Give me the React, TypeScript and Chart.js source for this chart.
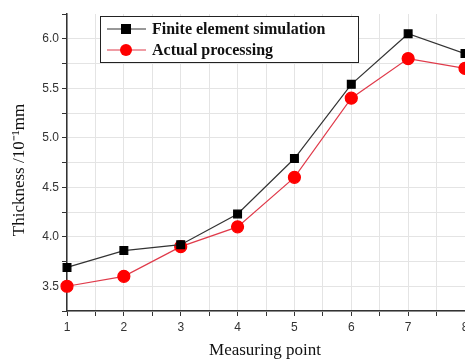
import React, { useEffect, useRef } from "react";
import { Chart, registerables } from "chart.js";

Chart.register(...registerables);

const points = [1, 2, 3, 4, 5, 6, 7, 8];
const simulation = [3.69, 3.86, 3.92, 4.23, 4.79, 5.54, 6.05, 5.85];
const actual = [3.5, 3.6, 3.9, 4.1, 4.6, 5.4, 5.8, 5.7];
const seriesNames = ["Finite element simulation", "Actual processing"];
const yTitle = "Thickness /10\u207B\u00B9mm";
const xTitle = "Measuring point";

const overlayPlugin = {
  id: "overlay",
  afterDraw(chart: any) {
    const { ctx, chartArea } = chart;
    ctx.save();
    ctx.fillStyle = "#111";
    ctx.font = "17px 'Liberation Serif', 'Times New Roman', serif";
    ctx.textAlign = "center";
    ctx.textBaseline = "middle";
    ctx.fillText(xTitle, 265, chartArea.bottom + 40);
    ctx.translate(20, 170);
    ctx.rotate(-Math.PI / 2);
    ctx.fillText(yTitle, 0, 0);
    ctx.restore();

    ctx.save();
    const bx = chartArea.left + 33;
    const by = chartArea.top + 2;
    const bw = 258;
    const bh = 46;
    ctx.fillStyle = "#fff";
    ctx.fillRect(bx, by, bw, bh);
    ctx.strokeStyle = "#222";
    ctx.lineWidth = 1;
    ctx.strokeRect(bx + 0.5, by + 0.5, bw, bh);
    const rows = [by + 13, by + 34];
    chart.data.datasets.forEach((ds: any, i: number) => {
      const y = rows[i];
      ctx.strokeStyle = ds.borderColor;
      ctx.lineWidth = 1.2;
      ctx.beginPath();
      ctx.moveTo(bx + 7, y);
      ctx.lineTo(bx + 46, y);
      ctx.stroke();
      ctx.fillStyle = ds.pointBackgroundColor;
      if (i === 0) {
        ctx.fillRect(bx + 26 - 5, y - 5, 10, 10);
      } else {
        ctx.beginPath();
        ctx.arc(bx + 26, y, 6, 0, Math.PI * 2);
        ctx.fill();
      }
      ctx.fillStyle = "#111";
      ctx.font = "bold 16px 'Liberation Serif', 'Times New Roman', serif";
      ctx.textAlign = "left";
      ctx.textBaseline = "middle";
      ctx.fillText(ds.label, bx + 52, y + 1);
    });
    ctx.restore();
  },
};

export default function App() {
  const ref = useRef<HTMLCanvasElement>(null);
  useEffect(() => {
    if (!ref.current) return;
    const chart = new Chart(ref.current, {
      type: "line",
      data: {
        datasets: [
          {
            label: seriesNames[0],
            data: points.map((x, i) => ({ x, y: simulation[i] })),
            borderColor: "#333333",
            backgroundColor: "#000000",
            pointBackgroundColor: "#000000",
            pointBorderColor: "#000000",
            pointStyle: "rect",
            pointRadius: 5.5,
            borderWidth: 1.2,
            clip: false as any,
          },
          {
            label: seriesNames[1],
            data: points.map((x, i) => ({ x, y: actual[i] })),
            borderColor: "#e03a4a",
            backgroundColor: "#ff0000",
            pointBackgroundColor: "#ff0000",
            pointBorderColor: "#ff0000",
            pointStyle: "circle",
            pointRadius: 6,
            borderWidth: 1.2,
            clip: false as any,
          },
        ],
      },
      options: {
        responsive: false,
        animation: false,
        layout: { autoPadding: false, padding: { top: 14, right: 0, left: 0, bottom: 0 } },
        plugins: { legend: { display: false }, tooltip: { enabled: false } },
        scales: {
          x: {
            type: "linear",
            min: 1,
            max: 8,
            afterFit: (s: any) => {
              s.height = 50;
              s.paddingRight = 0;
              s.paddingLeft = 0;
            },
            ticks: {
              stepSize: 0.5,
              autoSkip: false,
              maxRotation: 0,
              padding: 4,
              color: "#333",
              font: { family: "'Liberation Sans', Arial, sans-serif", size: 12 },
              callback: (v: any) => (Number(v) % 1 === 0 ? String(v) : ""),
            },
            grid: {
              color: "#e4e4e4",
              tickColor: "#333",
              tickLength: 5,
              lineWidth: 1,
            },
            border: { color: "#333", width: 1.5 },
          },
          y: {
            type: "linear",
            min: 3.25,
            max: 6.25,
            afterFit: (s: any) => {
              s.width = 67;
              s.paddingTop = 0;
              s.paddingBottom = 0;
            },
            ticks: {
              stepSize: 0.25,
              autoSkip: false,
              padding: 3,
              color: "#333",
              font: { family: "'Liberation Sans', Arial, sans-serif", size: 12 },
              callback: (v: any) => {
                const n = Number(v);
                return Math.abs(n * 2 - Math.round(n * 2)) < 1e-6 && n >= 3.5 && n <= 6 ? n.toFixed(1) : "";
              },
            },
            grid: {
              color: (c: any) => (c.tick && c.tick.value >= 6.25 ? "rgba(0,0,0,0)" : "#e4e4e4"),
              tickColor: "#333",
              tickLength: 5,
              lineWidth: 1,
            },
            border: { color: "#333", width: 1.5 },
          },
        },
      },
      plugins: [overlayPlugin],
    } as any);
    return () => chart.destroy();
  }, []);
  return (
    <div style={{ position: "absolute", left: 0, top: 0, width: 465, height: 361, background: "#fff" }}>
      <canvas ref={ref} width={465} height={361} style={{ display: "block" }} />
    </div>
  );
}
